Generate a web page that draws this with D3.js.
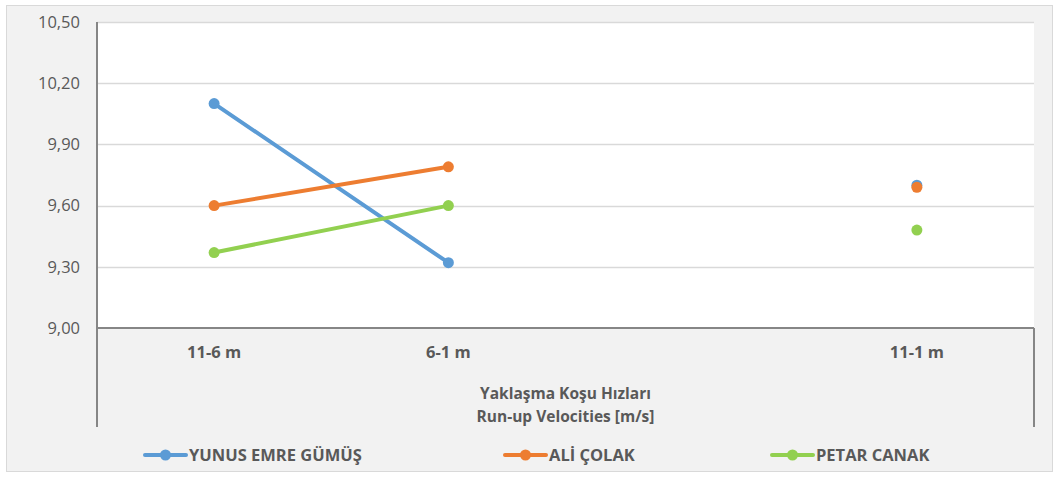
<!DOCTYPE html>
<html>
<head>
<meta charset="utf-8">
<script src="https://cdn.jsdelivr.net/npm/d3@7"></script>
<style>
  html, body { margin: 0; padding: 0; background: #ffffff; }
  svg { display: block; }
  text { font-family: "Open Sans", "Noto Sans", sans-serif; fill: #595959; }
</style>
</head>
<body>
<svg id="chart" width="1059" height="477"></svg>
<script>
// Run-up velocity segments (blank slot separates split times from the full run)
const categories = ["11-6 m", "6-1 m", "", "11-1 m"];
const yunusEmre = [10.10, 9.32, null, 9.70];
const aliColak  = [9.60, 9.79, null, 9.69];
const petarCanak = [9.37, 9.60, null, 9.48];
const yTicks = [9.00, 9.30, 9.60, 9.90, 10.20, 10.50];
const axisTitle = ["Yaklaşma Koşu Hızları", "Run-up Velocities [m/s]"];

const series = [
  { name: "YUNUS EMRE GÜMÜŞ", values: yunusEmre, color: "#5b9bd5" },
  { name: "ALİ ÇOLAK", values: aliColak, color: "#ed7d31" },
  { name: "PETAR CANAK", values: petarCanak, color: "#92d050" }
];

const svg = d3.select("#chart");
const plot = { left: 97, right: 1034, top: 22, bottom: 328 };
const axisBottom = 427;

// chart area
svg.append("rect")
  .attr("x", 6.5).attr("y", 5.5)
  .attr("width", 1046).attr("height", 466)
  .attr("fill", "#f2f2f2")
  .attr("stroke", "#d9d9d9").attr("stroke-width", 1);

// plot area
svg.append("rect")
  .attr("x", plot.left).attr("y", plot.top)
  .attr("width", plot.right - plot.left).attr("height", plot.bottom - plot.top)
  .attr("fill", "#ffffff");

const x = d3.scaleBand()
  .domain(categories.map((c, i) => i))
  .range([plot.left, plot.right])
  .paddingInner(0).paddingOuter(0);

const y = d3.scaleLinear()
  .domain([9.00, 10.50])
  .range([plot.bottom, plot.top]);

const fmt = v => d3.format(".2f")(v).replace(".", ",");

// gridlines
svg.append("g")
  .selectAll("line")
  .data(yTicks.filter(t => t > 9.0))
  .join("line")
  .attr("x1", plot.left).attr("x2", plot.right)
  .attr("y1", d => Math.round(y(d)) + 0.5)
  .attr("y2", d => Math.round(y(d)) + 0.5)
  .attr("stroke", "#d9d9d9").attr("stroke-width", 1.5);

// y tick labels
const yAxis = d3.axisLeft(y).tickValues(yTicks).tickFormat(fmt).tickSize(0).tickPadding(17);
const gy = svg.append("g").attr("transform", `translate(${plot.left},0)`).call(yAxis);
gy.select(".domain").remove();
gy.selectAll("text")
  .attr("font-size", 16.5)
  .attr("fill", "#595959")
  .attr("font-family", "\"Open Sans\", sans-serif");

// category axis frame
const frame = svg.append("g").attr("stroke", "#868686").attr("stroke-width", 2).attr("fill", "none");
frame.append("line")
  .attr("x1", plot.left).attr("x2", plot.right)
  .attr("y1", plot.bottom).attr("y2", plot.bottom);
frame.append("line")
  .attr("x1", plot.left).attr("x2", plot.left)
  .attr("y1", plot.top).attr("y2", axisBottom);
frame.append("line")
  .attr("x1", plot.right).attr("x2", plot.right)
  .attr("y1", plot.bottom).attr("y2", axisBottom);

// category labels
const xAxis = d3.axisBottom(x)
  .tickFormat(i => categories[i])
  .tickSize(0).tickPadding(18);
const gx = svg.append("g").attr("transform", `translate(0,${plot.bottom})`).call(xAxis);
gx.select(".domain").remove();
gx.selectAll("text")
  .attr("font-size", 16.5)
  .attr("font-weight", "bold")
  .attr("fill", "#595959")
  .attr("font-family", "\"Open Sans\", sans-serif");

// axis title
const cx = (plot.left + plot.right) / 2;
svg.append("text")
  .attr("x", cx).attr("y", 399)
  .attr("text-anchor", "middle")
  .attr("font-size", 15.5).attr("font-weight", "bold")
  .text(axisTitle[0]);
svg.append("text")
  .attr("x", cx).attr("y", 422)
  .attr("text-anchor", "middle")
  .attr("font-size", 15.5).attr("font-weight", "bold")
  .text(axisTitle[1]);

// series lines and markers
const line = d3.line()
  .defined(d => d.v !== null)
  .x(d => x(d.i) + x.bandwidth() / 2)
  .y(d => y(d.v));

series.forEach(s => {
  const pts = s.values.map((v, i) => ({ i, v }));
  svg.append("path")
    .datum(pts)
    .attr("d", line)
    .attr("fill", "none")
    .attr("stroke", s.color)
    .attr("stroke-width", 4)
    .attr("stroke-linecap", "round");
  svg.append("g")
    .selectAll("circle")
    .data(pts.filter(d => d.v !== null))
    .join("circle")
    .attr("cx", d => x(d.i) + x.bandwidth() / 2)
    .attr("cy", d => y(d.v))
    .attr("r", 5.5)
    .attr("fill", s.color);
});

// legend
const legendX = [145, 505, 772];
const legendY = 455;
series.forEach((s, k) => {
  const g = svg.append("g").attr("transform", `translate(${legendX[k]},${legendY})`);
  g.append("line")
    .attr("x1", 0).attr("x2", 41)
    .attr("y1", 0).attr("y2", 0)
    .attr("stroke", s.color).attr("stroke-width", 4)
    .attr("stroke-linecap", "round");
  g.append("circle")
    .attr("cx", 20.5).attr("cy", 0).attr("r", 5.5)
    .attr("fill", s.color);
  g.append("text")
    .attr("x", 44).attr("y", 0)
    .attr("dy", "0.35em")
    .attr("font-size", 16.5).attr("font-weight", "bold")
    .text(s.name);
});
</script>
</body>
</html>
